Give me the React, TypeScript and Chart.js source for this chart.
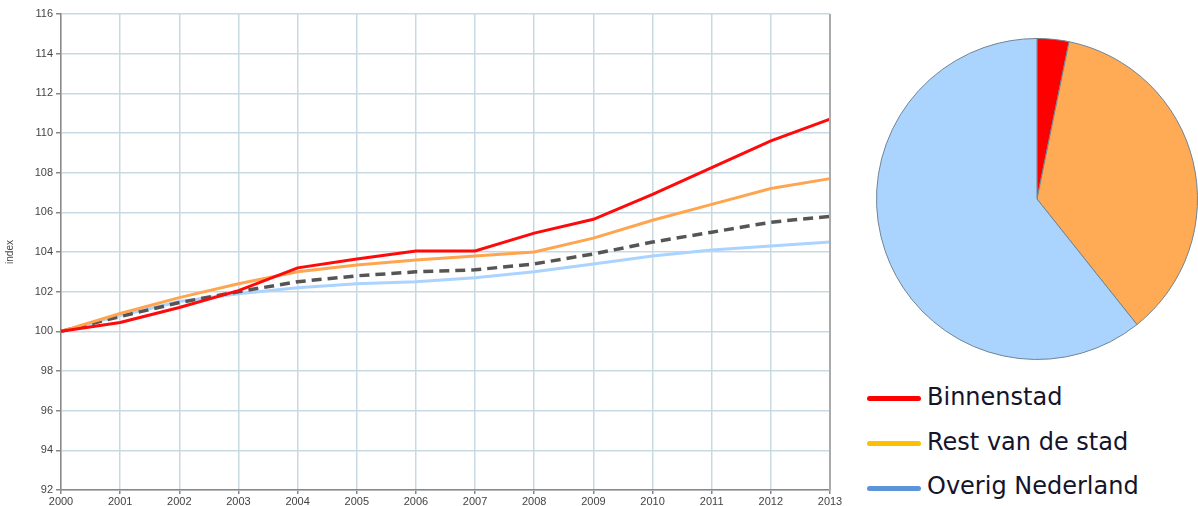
import React, { useEffect, useRef } from "react";
import { Chart, registerables } from "chart.js";

Chart.register(...registerables);

const years = ["2000","2001","2002","2003","2004","2005","2006","2007","2008","2009","2010","2011","2012","2013"];
const binnenstad = [100, 100.45, 101.2, 102.05, 103.2, 103.65, 104.05, 104.05, 104.95, 105.65, 106.9, 108.25, 109.6, 110.7];
const restStad = [100, 100.9, 101.7, 102.4, 103.0, 103.35, 103.6, 103.8, 104.0, 104.7, 105.6, 106.4, 107.2, 107.7];
const gemiddeld = [100, 100.75, 101.45, 102.0, 102.5, 102.8, 103.0, 103.1, 103.4, 103.9, 104.5, 105.0, 105.5, 105.8];
const overigNL = [100, 100.8, 101.5, 101.9, 102.2, 102.4, 102.5, 102.7, 103.0, 103.4, 103.8, 104.1, 104.3, 104.5];

const pieLabels = ["Binnenstad", "Rest van de stad", "Overig Nederland"];
const pieValues = [3.2, 36.1, 60.7];
const pieColors = ["#ff0000", "#ffaa55", "#aad4fe"];

const legendLabels = ["Binnenstad", "Rest van de stad", "Overig Nederland"];
const legendColors = ["#ff0000", "#ffc000", "#5b94d8"];

export default function App() {
  const lineRef = useRef<HTMLCanvasElement>(null);
  const pieRef = useRef<HTMLCanvasElement>(null);

  useEffect(() => {
    document.body.style.margin = "0";
    const tickFont = { family: "'Liberation Sans', Arial, sans-serif", size: 11 };
    const line = new Chart(lineRef.current!, {
      type: "line",
      data: {
        labels: years,
        datasets: [
          { label: "Binnenstad", data: binnenstad, borderColor: "#ff0a0a", borderWidth: 3, pointRadius: 0, tension: 0 },
          { label: "Rest van de stad", data: restStad, borderColor: "#ffa54f", borderWidth: 3, pointRadius: 0, tension: 0 },
          { label: "Gemiddeld", data: gemiddeld, borderColor: "#555555", borderWidth: 3.5, borderDash: [10, 6], pointRadius: 0, tension: 0 },
          { label: "Overig Nederland", data: overigNL, borderColor: "#aad4ff", borderWidth: 3, pointRadius: 0, tension: 0 },
        ],
      },
      options: {
        animation: false,
        responsive: false,
        maintainAspectRatio: false,
        layout: { padding: { top: 14, right: 15, left: 0, bottom: 0 } },
        plugins: { legend: { display: false }, tooltip: { enabled: false } },
        scales: {
          x: {
            type: "category",
            offset: false,
            grid: { color: "#c9d9e1", lineWidth: 1.5, tickLength: 4, tickColor: "#888" },
            border: { color: "#888", width: 1.5 },
            ticks: { color: "#444", font: tickFont, padding: 1, maxRotation: 0, autoSkip: false },
            afterFit: (s: any) => { s.height = 16; },
          },
          y: {
            min: 92,
            max: 116,
            ticks: { stepSize: 2, color: "#444", font: tickFont, padding: 3 },
            grid: { color: "#c9d9e1", lineWidth: 1.5, tickLength: 5, tickColor: "#888" },
            border: { color: "#888", width: 1.5 },
            title: { display: true, text: "index", color: "#444", font: { family: "'Liberation Sans', Arial, sans-serif", size: 10 }, padding: { top: 4, bottom: 0 } },
            afterFit: (s: any) => { s.width = 61; },
          },
        },
      },
      plugins: [
        {
          id: "rightBorder",
          afterDraw: (c: any) => {
            const { ctx, chartArea } = c;
            ctx.save();
            ctx.strokeStyle = "#aaaaaa";
            ctx.lineWidth = 2;
            ctx.beginPath();
            ctx.moveTo(chartArea.right, chartArea.top);
            ctx.lineTo(chartArea.right, chartArea.bottom);
            ctx.stroke();
            ctx.restore();
          },
        },
      ],
    } as any);

    const pie = new Chart(pieRef.current!, {
      type: "pie",
      data: {
        labels: pieLabels,
        datasets: [{ data: pieValues, backgroundColor: pieColors, borderColor: "#6f8494", borderWidth: 1 }],
      },
      options: {
        animation: false,
        responsive: false,
        maintainAspectRatio: false,
        layout: { padding: 0 },
        plugins: { legend: { display: false }, tooltip: { enabled: false } },
      },
    } as any);

    return () => {
      line.destroy();
      pie.destroy();
    };
  }, []);

  const baselines = [405, 450, 494];
  const lineYs = [398, 443, 488];

  return (
    <div style={{ position: "relative", width: 1198, height: 506, background: "#fff", overflow: "hidden" }}>
      <canvas ref={lineRef} width={845} height={506} style={{ position: "absolute", left: 0, top: 0, width: 845, height: 506 }} />
      <canvas ref={pieRef} width={322} height={322} style={{ position: "absolute", left: 876, top: 38, width: 322, height: 322 }} />
      {legendLabels.map((l, i) => (
        <React.Fragment key={l}>
          <div
            style={{
              position: "absolute",
              left: 867,
              top: lineYs[i] - 2.5,
              width: 54,
              height: 5,
              borderRadius: 3,
              background: legendColors[i],
            }}
          />
          <div
            style={{
              position: "absolute",
              left: 927,
              top: baselines[i] - 20.3,
              fontFamily: "'DejaVu Sans', Verdana, sans-serif",
              fontSize: 24,
              lineHeight: "24px",
              color: "#14142a",
              whiteSpace: "nowrap",
            }}
          >
            {l}
          </div>
        </React.Fragment>
      ))}
    </div>
  );
}
